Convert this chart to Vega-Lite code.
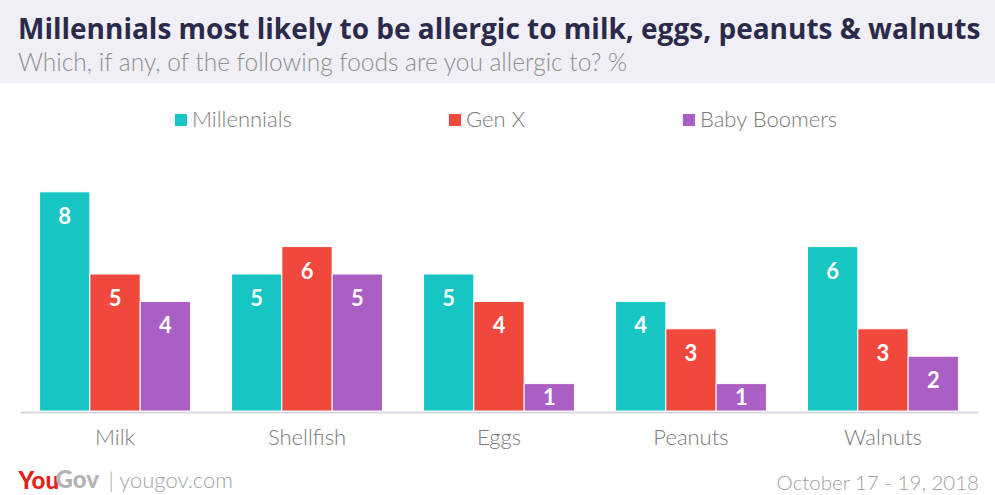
{
  "$schema": "https://vega.github.io/schema/vega-lite/v6.json",
  "background": "white",
  "padding": 0,
  "spacing": 54,
  "bounds": "flush",
  "config": {"font": "Lato", "view": {"stroke": null}},
  "vconcat": [
    {
      "width": 995,
      "height": 83,
      "view": {"fill": "#f0eff6", "stroke": null},
      "title": {
        "text": "Millennials most likely to be allergic to milk, eggs, peanuts & walnuts",
        "subtitle": "Which, if any, of the following foods are you allergic to? %",
        "anchor": "start",
        "orient": "top",
        "frame": "group",
        "dx": 18,
        "offset": -75,
        "font": "Open Sans",
        "fontSize": 28,
        "fontWeight": "bold",
        "color": "#2c2a4a",
        "subtitleFont": "Lato",
        "subtitleFontSize": 24.5,
        "subtitleFontWeight": 300,
        "subtitleColor": "#8e8e8e",
        "subtitlePadding": 7
      },
      "data": {"values": [{"k": "a"}]},
      "mark": {"type": "text", "opacity": 0},
      "encoding": {
        "text": {"field": "k"},
        "y": {
          "field": "k",
          "type": "nominal",
          "axis": {
            "title": "| yougov.com",
            "titleAngle": 0,
            "titleX": 108,
            "titleY": 487,
            "titleAlign": "left",
            "titleBaseline": "alphabetic",
            "titleFont": "Lato",
            "titleFontSize": 22,
            "titleFontWeight": 300,
            "titleColor": "#a5a5a5",
            "labels": false,
            "ticks": false,
            "domain": false,
            "grid": false
          }
        }
      }
    },
    {
      "width": 995,
      "height": 274,
      "data": {
        "values": [
          {"food": "Milk", "gen": "Millennials", "value": 8},
          {"food": "Milk", "gen": "Gen X", "value": 5},
          {"food": "Milk", "gen": "Baby Boomers", "value": 4},
          {"food": "Shellfish", "gen": "Millennials", "value": 5},
          {"food": "Shellfish", "gen": "Gen X", "value": 6},
          {"food": "Shellfish", "gen": "Baby Boomers", "value": 5},
          {"food": "Eggs", "gen": "Millennials", "value": 5},
          {"food": "Eggs", "gen": "Gen X", "value": 4},
          {"food": "Eggs", "gen": "Baby Boomers", "value": 1},
          {"food": "Peanuts", "gen": "Millennials", "value": 4},
          {"food": "Peanuts", "gen": "Gen X", "value": 3},
          {"food": "Peanuts", "gen": "Baby Boomers", "value": 1},
          {"food": "Walnuts", "gen": "Millennials", "value": 6},
          {"food": "Walnuts", "gen": "Gen X", "value": 3},
          {"food": "Walnuts", "gen": "Baby Boomers", "value": 2}
        ]
      },
      "title": {
        "text": "October 17 - 19, 2018",
        "orient": "bottom",
        "anchor": "end",
        "frame": "group",
        "dx": -16,
        "offset": -19,
        "font": "Lato",
        "fontSize": 20.5,
        "fontWeight": 300,
        "color": "#a0a0a0"
      },
      "encoding": {
        "x": {
          "field": "food",
          "type": "nominal",
          "sort": ["Milk", "Shellfish", "Eggs", "Peanuts", "Walnuts"],
          "scale": {"range": [20, 978], "paddingInner": 0.214, "paddingOuter": 0.102},
          "axis": {
            "title": "You",
            "titleX": 18,
            "titleY": 76,
            "titleAlign": "left",
            "titleBaseline": "alphabetic",
            "titleFont": "Lato",
            "titleFontSize": 24,
            "titleFontWeight": 900,
            "titleColor": "#e3211b",
            "labelAngle": 0,
            "labelFont": "Lato",
            "labelFontSize": 22,
            "labelFontWeight": 300,
            "labelColor": "#7a7a7a",
            "labelPadding": 15,
            "ticks": false,
            "offset": 1,
            "domainColor": "#d8d8e0",
            "domainWidth": 2
          }
        },
        "xOffset": {
          "field": "gen",
          "type": "nominal",
          "sort": ["Millennials", "Gen X", "Baby Boomers"],
          "scale": {"paddingInner": 0, "paddingOuter": 0}
        },
        "y": {
          "field": "value",
          "type": "quantitative",
          "scale": {"domain": [0, 10], "nice": false},
          "axis": {
            "title": "Gov",
            "titleAngle": 0,
            "titleX": 55,
            "titleY": 350,
            "titleAlign": "left",
            "titleBaseline": "alphabetic",
            "titleFont": "Lato",
            "titleFontSize": 24,
            "titleFontWeight": 900,
            "titleColor": "#b3b3b3",
            "labels": false,
            "ticks": false,
            "domain": false,
            "grid": false
          }
        }
      },
      "layer": [
        {
          "mark": {"type": "bar", "stroke": "white", "strokeWidth": 1},
          "encoding": {
            "color": {
              "field": "gen",
              "type": "nominal",
              "sort": ["Millennials", "Gen X", "Baby Boomers"],
              "scale": {"domain": ["Millennials", "Gen X", "Baby Boomers"], "range": ["#17c6c2", "#f0483c", "#aa5fc4"]},
              "legend": {
                "title": null,
                "orient": "none",
                "direction": "horizontal",
                "legendX": 170,
                "legendY": 109,
                "padding": 0,
                "symbolType": "square",
                "symbolSize": 144,
                "symbolStrokeWidth": 0,
                "labelFont": "Lato",
                "labelFontSize": 22,
                "labelFontWeight": 300,
                "labelColor": "#7a7a7a",
                "labelOffset": 0,
                "columnPadding": 152
              }
            }
          }
        },
        {
          "transform": [{"filter": "datum.value >= 2"}],
          "mark": {"type": "text", "color": "white", "fontWeight": "bold", "fontSize": 22, "font": "Lato", "baseline": "middle", "dy": 25},
          "encoding": {"text": {"field": "value", "type": "quantitative"}}
        },
        {
          "transform": [{"filter": "datum.value < 2"}],
          "mark": {"type": "text", "color": "white", "fontWeight": "bold", "fontSize": 22, "font": "Lato", "baseline": "middle", "dy": 14},
          "encoding": {"text": {"field": "value", "type": "quantitative"}}
        }
      ]
    }
  ]
}
